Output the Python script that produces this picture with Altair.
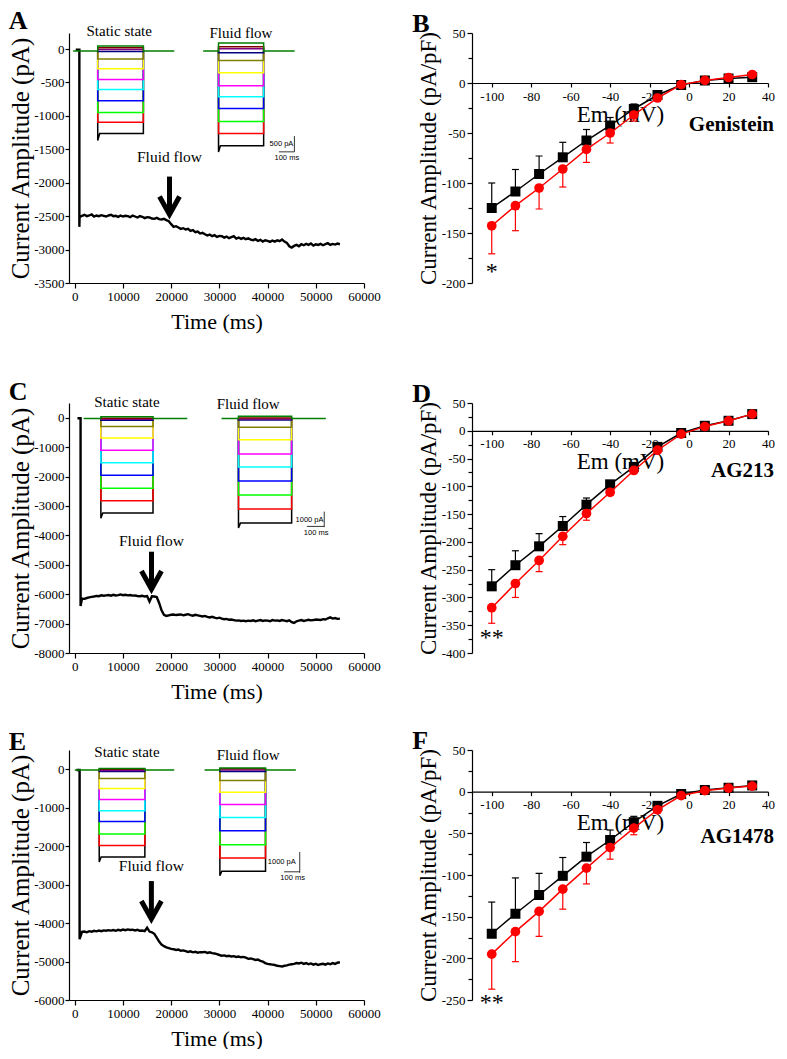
import altair as alt
import pandas as pd

SERIF = "Liberation Serif"
SANS = "Liberation Sans"

# ---------------- I-V curves (panels B, D, F) ----------------
VM = [-100, -88, -76, -64, -52, -40, -28, -16, -4, 8, 20, 32]

B_STATIC = [-125, -108.5, -91, -74.3, -57.5, -42.5, -26, -12, -2, 2.5, 4.5, 5.8]
B_STATIC_SE = [25, 22, 18, 15, 11, 8, 5, 3, 1.5, 1.5, 2, 2.5]
B_FLOW = [-142.8, -122.7, -105, -86, -66.4, -50, -32, -15, -1.6, 2.6, 5.5, 8.5]
B_FLOW_SE = [28, 25, 21, 18, 13, 10, 6, 3, 1.5, 1.5, 1.5, 1.5]

D_STATIC = [-280, -242, -208, -171.4, -133, -96.4, -65, -29, -4, 9, 18, 30]
D_STATIC_SE = [30, 26, 23, 17, 12, 6, 4, 3, 5, 5, 4, 4]
D_FLOW = [-318.5, -275, -233.4, -190, -149, -110.7, -71.4, -35, -6, 7.7, 17.9, 30]
D_FLOW_SE = [28, 25, 20, 15, 12, 5, 4, 3, 3, 3, 3, 3]

F_STATIC = [-170.5, -146.5, -124, -101, -78, -58, -36.6, -17, -2.8, 2, 4.7, 7.5]
F_STATIC_SE = [38, 43, 26, 22, 17, 12, 7, 3, 2, 3, 3, 3]
F_FLOW = [-195, -168, -143.7, -117, -91.7, -67, -43.7, -21.7, -4.7, 1.2, 4.3, 6.7]
F_FLOW_SE = [42, 36, 30, 24, 19, 14, 8, 3, 2, 2, 2, 2]

# ---------------- whole-cell current vs time (panels A, C, E) ----------------
A_T = [200, 950, 950] + list(range(1000, 55001, 500))
A_I = [-10, -10, -2660,
       -2510, -2495, -2480, -2500, -2490, -2475, -2505, -2490, -2500, -2485,
       -2495, -2505, -2490, -2480, -2500, -2495, -2510, -2490, -2505, -2495,
       -2500, -2515, -2490, -2505, -2520, -2500, -2510, -2530, -2515, -2520,
       -2535, -2540, -2525, -2545, -2550, -2540, -2560, -2575, -2620, -2660,
       -2650, -2670, -2690, -2680, -2700, -2690, -2720, -2710, -2740, -2730,
       -2760, -2750, -2770, -2790, -2775, -2800, -2785, -2810, -2795, -2800,
       -2820, -2805, -2830, -2815, -2800, -2835, -2820, -2840, -2825, -2845,
       -2830, -2850, -2860, -2845, -2870, -2855, -2880, -2860, -2870, -2885,
       -2865, -2880, -2860, -2875, -2850, -2880, -2900, -2950, -2970, -2945,
       -2930, -2950, -2920, -2935, -2915, -2930, -2910, -2940, -2920, -2930,
       -2915, -2935, -2920, -2905, -2930, -2915, -2925, -2910, -2920]

C_T = [550, 1200, 1200] + list(range(1500, 55001, 500))
C_I = [-20, -20, -6400,
       -6150, -6160, -6130, -6110, -6090, -6080, -6060, -6070, -6040, -6055,
       -6040, -6030, -6050, -6020, -6045, -6030, -6010, -6035, -6020, -6040,
       -6030, -6050, -6045, -6060, -6070, -6055, -6080, -6065, -6250, -6070,
       -6080, -6100, -6300, -6550, -6700, -6740, -6720, -6700, -6690, -6710,
       -6700, -6690, -6720, -6700, -6680, -6710, -6730, -6700, -6720, -6740,
       -6760, -6740, -6770, -6790, -6770, -6800, -6820, -6800, -6830, -6850,
       -6840, -6870, -6860, -6880, -6900, -6890, -6910, -6900, -6920, -6900,
       -6910, -6890, -6920, -6900, -6880, -6910, -6890, -6900, -6920, -6880,
       -6900, -6890, -6910, -6880, -6900, -6920, -6890, -6950, -6980, -6920,
       -6900, -6880, -6910, -6890, -6870, -6890, -6880, -6860, -6870, -6880,
       -6850, -6860, -6820, -6790, -6830, -6810, -6840, -6830]

E_T = [340, 1000, 1000] + list(range(1500, 55001, 500))
E_I = [-20, -20, -4420,
       -4230, -4220, -4240, -4210, -4225, -4200, -4215, -4195, -4210, -4190,
       -4200, -4185, -4195, -4180, -4200, -4175, -4190, -4170, -4185, -4165,
       -4180, -4170, -4190, -4175, -4200, -4195, -4210, -4120, -4220, -4240,
       -4280, -4380, -4480, -4560, -4600, -4630, -4650, -4670, -4680, -4700,
       -4690, -4720, -4710, -4730, -4750, -4735, -4760, -4745, -4770, -4755,
       -4760, -4750, -4775, -4760, -4780, -4790, -4810, -4830, -4850, -4840,
       -4860, -4850, -4870, -4860, -4880, -4870, -4890, -4880, -4900, -4930,
       -4920, -4940, -4960, -4950, -4980, -5000, -5040, -5060, -5070, -5080,
       -5090, -5110, -5120, -5130, -5110, -5100, -5080, -5070, -5060, -5040,
       -5050, -5030, -5060, -5040, -5070, -5050, -5080, -5060, -5090, -5070,
       -5060, -5080, -5050, -5070, -5040, -5060, -5030, -5020]

# ---------------- inset current families (black ... dark green) ----------------
TRACE_COLORS = ["#000000", "#ff0000", "#00ff00", "#0000ff", "#00ffff", "#ff00ff",
                "#ffff00", "#808000", "#000080", "#800080", "#800000", "#008000"]

A_STATIC_LEVELS = [-1265, -1095, -950, -772, -605, -457, -295, -148, -35, -5, 20, 45]
A_FLOW_LEVELS = [-1445, -1262, -1085, -890, -712, -550, -355, -170, -55, 5, 35, 90]
C_STATIC_LEVELS = [-3237, -2822, -2397, -1960, -1534, -1109, -694, -302, -90, -50, -20, 30]
C_FLOW_LEVELS = [-3584, -3102, -2632, -2150, -1680, -1232, -750, -325, -80, -40, -10, 50]
E_STATIC_LEVELS = [-2282, -1983, -1684, -1359, -1077, -786, -504, -239, -60, -30, 0, 20]
E_FLOW_LEVELS = [-2650, -2308, -1966, -1598, -1256, -915, -598, -290, -60, -20, 10, 30]

# step window, baseline window, holding level, black onset dip
A_STATIC_WIN = (4760, 14230, -340, 20640, -30, -1368)
A_FLOW_WIN = (29820, 39180, 26640, 45620, -30, -1540)
C_STATIC_WIN = (5410, 16230, 1830, 23340, -30, -3416)
C_FLOW_WIN = (33960, 44990, 30440, 52080, -30, -3752)
E_STATIC_WIN = (5070, 14540, 0, 20630, -20, -2410)
E_FLOW_WIN = (30100, 39570, 26920, 45860, -20, -2770)

# scale bars: vertical (x, y_top, y_bottom), horizontal (x_left, x_right, y)
A_BAR = (45560, -1301, -1538, 42350, 45560, -1538)
C_BAR = (51750, -3192, -3720, 48160, 51750, -3696)
E_BAR = (46670, -2154, -2692, 43430, 46670, -2667)
A_BAR_TEXT = [(42870, -1428, "500 pA"), (43990, -1627, "100 ms")]
C_BAR_TEXT = [(48700, -3494, "1000 pA"), (50060, -3920, "100 ms")]
E_BAR_TEXT = [(42950, -2410, "1000 pA"), (45190, -2838, "100 ms")]

# inset titles
A_INSET_TEXT = [(9220, 193, "Static state"), (34470, 163, "Fluid flow")]
C_INSET_TEXT = [(10820, 370, "Static state"), (35980, 282, "Fluid flow")]
E_INSET_TEXT = [(10830, 308, "Static state"), (35980, 238, "Fluid flow")]

# arrow: x, label baseline, shaft top, head centre, tip
A_ARROW = (19650, -1690, -1908, -2340, -2477)
C_ARROW = (15910, -4357, -4556, -5520, -5813)
E_ARROW = (15890, -2650, -2908, -3659, -3882)

LEFT_W, RIGHT_W, H = 295, 296, 250
CHEVRON = "M -1 -0.9 L 0 0.9 L 1 -0.9"


def inset_rows(tag, levels, win):
    start, end, bl0, bl1, hold, dip = win
    rows = []
    n = len(levels)
    for i, lev in enumerate(levels):
        if i == n - 1:
            pts = [(bl0, hold), (start, hold), (start, lev), (end, lev), (end, hold), (bl1, hold)]
        elif i == 0:
            pts = [(start, hold), (start, dip), (start + 400, lev), (end, lev), (end, hold)]
        else:
            pts = [(start, hold), (start, lev), (end, lev), (end, hold)]
        for k, (x, y) in enumerate(pts):
            rows.append({"x": x, "y": y, "g": f"{tag}{i:02d}", "c": f"c{i:02d}", "k": k})
    return rows


def panel_title(letter, dx=0):
    return alt.TitleParams(text=letter, anchor="start", frame="bounds", fontSize=26, font=SERIF,
                           fontWeight="bold", color="black", offset=-10, dx=dx)


def left_panel(letter, t, cur, ydom, ystep, static_levels, static_win, flow_levels, flow_win,
               bar, bar_text, inset_text, arrow):
    xs = alt.Scale(domain=[-1200, 60000], nice=False, zero=False)
    ys = alt.Scale(domain=ydom, nice=False, zero=False)
    xaxis = alt.Axis(values=list(range(0, 60001, 10000)), title="Time (ms)", orient="bottom",
                     labelExpr="datum.value + ''", tickSize=5, labelPadding=2,
                     titlePadding=8, titleFontSize=22, labelFlush=False)
    yaxis = alt.Axis(values=list(range(ydom[0], 1, ystep)), title="Current Amplitude (pA)",
                     orient="left", labelExpr="datum.value + ''", tickSize=4, labelPadding=1,
                     titlePadding=0, titleFontSize=25)
    X = lambda f="x": alt.X(f"{f}:Q", scale=xs, axis=None)
    Y = lambda f="y": alt.Y(f"{f}:Q", scale=ys, axis=None)

    trace = pd.DataFrame({"x": t, "y": cur, "k": list(range(len(t)))})
    main = alt.Chart(trace).mark_line(color="black", strokeWidth=2.4).encode(
        x=alt.X("x:Q", scale=xs, axis=xaxis), y=alt.Y("y:Q", scale=ys, axis=yaxis), order="k:Q")

    ins = pd.DataFrame(inset_rows("s", static_levels, static_win) + inset_rows("f", flow_levels, flow_win))
    insets = alt.Chart(ins).mark_line(strokeWidth=1.5).encode(
        x=X(), y=Y(), detail="g:N", order="k:Q",
        color=alt.Color("c:N", legend=None,
                        scale=alt.Scale(domain=[f"c{i:02d}" for i in range(12)], range=TRACE_COLORS)))

    vx, vy0, vy1, hx0, hx1, hy = bar
    bars_df = pd.DataFrame({"x": [vx, hx0], "x2": [vx, hx1], "y": [vy0, hy], "y2": [vy1, hy]})
    bars = alt.Chart(bars_df).mark_rule(color="black", strokeWidth=0.8).encode(
        x=X(), x2="x2:Q", y=Y(), y2="y2:Q")
    btxt = alt.Chart(pd.DataFrame(bar_text, columns=["x", "y", "s"])).mark_text(
        font=SANS, fontSize=7.5, align="center", baseline="middle", color="black").encode(
        x=X(), y=Y(), text="s:N")
    itxt = alt.Chart(pd.DataFrame(inset_text, columns=["x", "y", "s"])).mark_text(
        font=SERIF, fontSize=15, align="center", baseline="alphabetic", color="black").encode(
        x=X(), y=Y(), text="s:N")

    ax, alab, atop, ahead, atip = arrow
    alabel = alt.Chart(pd.DataFrame({"x": [ax], "y": [alab], "s": ["Fluid flow"]})).mark_text(
        font=SERIF, fontSize=15.5, align="center", baseline="alphabetic", color="black").encode(
        x=X(), y=Y(), text="s:N")
    shaft = alt.Chart(pd.DataFrame({"x": [ax], "y": [atop], "y2": [atip]})).mark_rule(
        color="black", strokeWidth=5).encode(x=X(), y=Y(), y2="y2:Q")
    head = alt.Chart(pd.DataFrame({"x": [ax], "y": [ahead]})).mark_point(
        shape=CHEVRON, size=400, filled=False, strokeWidth=5, color="black", opacity=1,
        strokeJoin="miter").encode(x=X(), y=Y())

    return alt.layer(main, insets, bars, btxt, itxt, alabel, shaft, head).resolve_axis(
        x="independent", y="independent").properties(
        width=LEFT_W, height=H, title=panel_title(letter))


def iv_panel(letter, static, static_se, flow, flow_se, ydom, label, label_y, star, star_y):
    xs = alt.Scale(domain=[-110, 40], nice=False, zero=False)
    ys = alt.Scale(domain=ydom, nice=False, zero=False)
    zero_off = -H * (0 - ydom[0]) / (ydom[1] - ydom[0])
    xaxis = alt.Axis(values=list(range(-100, 41, 20)), title="Em (mV)", orient="bottom",
                     offset=zero_off, labelExpr="datum.value + ''", tickSize=4, labelPadding=3,
                     titlePadding=0, titleFontSize=23, labelFlush=False)
    yaxis = alt.Axis(values=list(range(ydom[0], 51, 50)), title="Current Amplitude (pA/pF)",
                     labelExpr="datum.value + ''", tickSize=5, labelPadding=2, titlePadding=1,
                     titleFontSize=23, orient="left")
    yminor = alt.Axis(values=list(range(ydom[0] + 25, 50, 50)), labels=False, domain=False,
                      tickSize=4, title=None, orient="left", grid=False)
    X = lambda: alt.X("v:Q", scale=xs, axis=None)
    Y = lambda: alt.Y("m:Q", scale=ys, axis=None)

    sdf = pd.DataFrame({"v": VM, "m": static, "e": [m + s for m, s in zip(static, static_se)]})
    fdf = pd.DataFrame({"v": VM, "m": flow, "e": [m - s for m, s in zip(flow, flow_se)]})

    axis_holder = alt.Chart(sdf).mark_point(opacity=0).encode(
        x=alt.X("v:Q", scale=xs, axis=xaxis), y=alt.Y("m:Q", scale=ys, axis=yaxis))
    minor = alt.Chart(sdf).mark_point(opacity=0).encode(
        x=X(), y=alt.Y("m:Q", scale=ys, axis=yminor))

    def series(df, col, shape, size):
        err = alt.Chart(df).mark_rule(color=col, strokeWidth=1.2).encode(x=X(), y=Y(), y2="e:Q")
        cap = alt.Chart(df).mark_tick(color=col, orient="horizontal", size=7, thickness=1.2,
                                      opacity=1).encode(x=X(), y=alt.Y("e:Q", scale=ys, axis=None))
        line = alt.Chart(df).mark_line(color=col, strokeWidth=1.5).encode(x=X(), y=Y())
        pts = alt.Chart(df).mark_point(shape=shape, filled=True, size=size, color=col,
                                       opacity=1).encode(x=X(), y=Y())
        return [err, cap, line, pts]

    lab = alt.Chart(pd.DataFrame({"v": [40], "m": [label_y], "s": [label]})).mark_text(
        font=SERIF, fontSize=21, fontWeight="bold", align="right", baseline="middle", dx=6,
        color="black").encode(x=X(), y=Y(), text="s:N")
    st = alt.Chart(pd.DataFrame({"v": [-100], "m": [star_y], "s": [star]})).mark_text(
        font=SERIF, fontSize=24, align="center", baseline="alphabetic", color="black").encode(
        x=X(), y=Y(), text="s:N")

    layers = [axis_holder, minor] + series(sdf, "black", "square", 100) + \
        series(fdf, "#ff0000", "circle", 95) + [st, lab]
    return alt.layer(*layers).resolve_axis(x="independent", y="independent").properties(
        width=RIGHT_W, height=H, title=panel_title(letter, dx=-5))


pA = left_panel("A", A_T, A_I, [-3500, 240], 500, A_STATIC_LEVELS, A_STATIC_WIN,
                A_FLOW_LEVELS, A_FLOW_WIN, A_BAR, A_BAR_TEXT, A_INSET_TEXT, A_ARROW)
pC = left_panel("C", C_T, C_I, [-8000, 500], 1000, C_STATIC_LEVELS, C_STATIC_WIN,
                C_FLOW_LEVELS, C_FLOW_WIN, C_BAR, C_BAR_TEXT, C_INSET_TEXT, C_ARROW)
pE = left_panel("E", E_T, E_I, [-6000, 500], 1000, E_STATIC_LEVELS, E_STATIC_WIN,
                E_FLOW_LEVELS, E_FLOW_WIN, E_BAR, E_BAR_TEXT, E_INSET_TEXT, E_ARROW)

pB = iv_panel("B", B_STATIC, B_STATIC_SE, B_FLOW, B_FLOW_SE, [-200, 50], "Genistein", -41.5, "*", -196)
pD = iv_panel("D", D_STATIC, D_STATIC_SE, D_FLOW, D_FLOW_SE, [-400, 50], "AG213", -73, "**", -385)
pF = iv_panel("F", F_STATIC, F_STATIC_SE, F_FLOW, F_FLOW_SE, [-250, 50], "AG1478", -54, "**", -262)

row1 = alt.hconcat(pA, pB, spacing=31)
row2 = alt.hconcat(pC, pD, spacing=31)
row3 = alt.hconcat(pE, pF, spacing=31)

chart = alt.vconcat(row1, alt.vconcat(row2, row3, spacing=26), spacing=46).properties(
    padding={"left": 0, "top": 0, "right": 0, "bottom": 0}
).configure_view(stroke=None).configure_axis(
    labelFont=SERIF, titleFont=SERIF, labelColor="black", titleColor="black",
    domainColor="black", tickColor="black", grid=False, titleFontWeight="normal",
    labelFontSize=13, domainWidth=1.2, tickWidth=1.2
).configure_title(color="black")

chart.save("out.html", embed_options={"renderer": "svg", "actions": False})
